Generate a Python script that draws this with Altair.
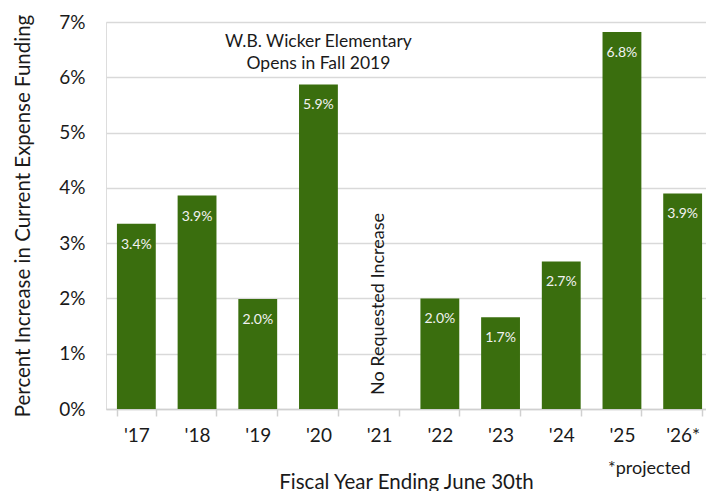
import altair as alt
import pandas as pd

years = ["'17", "'18", "'19", "'20", "'21", "'22", "'23", "'24", "'25", "'26*"]
values = [3.35, 3.86, 1.99, 5.87, None, 2.0, 1.66, 2.67, 6.82, 3.9]
labels = ["3.4%", "3.9%", "2.0%", "5.9%", "", "2.0%", "1.7%", "2.7%", "6.8%", "3.9%"]

note_year = ["'20", "'20"]
note_lines = ["W.B. Wicker Elementary", "Opens in Fall 2019"]
note_vals = [6.64, 6.24]

vert_year = ["'21"]
vert_text = ["No Requested Increase"]
vert_val = [1.9]

proj_year = ["'26*"]
proj_text = ["*projected"]
proj_val = [-1.18]

FONT = "Lato"
GREEN = "#3a6e0e"
INK = "#1a1a1a"

df = pd.DataFrame({"year": years, "value": values, "label": labels})
notes = pd.DataFrame({"year": note_year, "value": note_vals, "text": note_lines})
vert = pd.DataFrame({"year": vert_year, "value": vert_val, "text": vert_text})
proj = pd.DataFrame({"year": proj_year, "value": proj_val, "text": proj_text})

xscale = alt.Scale(paddingInner=0.36, paddingOuter=0.18, range=[0, 607])
xenc = alt.X("year:N", sort=years, scale=xscale,
             axis=alt.Axis(title="Fiscal Year Ending June 30th", labelAngle=0,
                           labelFontSize=19, labelColor=INK, labelFont=FONT,
                           labelPadding=10, tickBand="extent", tickSize=7,
                           tickColor="#d0d0d0", domainColor="#d0d0d0", domainWidth=1.5,
                           tickWidth=1.5, grid=False,
                           titleFontSize=20.5, titleFont=FONT, titleFontWeight="normal",
                           titleColor=INK, titleX=300, titleY=79,
                           titleBaseline="alphabetic"))
yscale = alt.Scale(domain=[0, 7], nice=False)
yenc = alt.Y("value:Q", scale=yscale,
             axis=alt.Axis(title="Percent Increase in Current Expense Funding",
                           values=[0, 1, 2, 3, 4, 5, 6, 7],
                           labelExpr="datum.value + '%'", labelFontSize=19,
                           labelFont=FONT, labelColor=INK, labelPadding=21,
                           ticks=False, domain=False, gridColor="#d9d9d9",
                           gridWidth=1.5, titleFontSize=20.5, titleFont=FONT,
                           titleFontWeight="normal", titleColor=INK,
                           titlePadding=25))

bars = alt.Chart(df).mark_bar(color=GREEN).encode(x=xenc, y=yenc)

bar_text = alt.Chart(df).mark_text(baseline="middle", dy=21, fontSize=14,
                                   font=FONT, color="#f2f2f2").encode(
    x=alt.X("year:N", sort=years), y=alt.Y("value:Q", scale=yscale), text="label:N")

note = alt.Chart(notes).mark_text(baseline="middle", fontSize=17.5, font=FONT,
                                  color=INK).encode(
    x=alt.X("year:N", sort=years), y=alt.Y("value:Q", scale=yscale), text="text:N")

vnote = alt.Chart(vert).mark_text(baseline="middle", angle=270, fontSize=18,
                                  font=FONT, color=INK).encode(
    x=alt.X("year:N", sort=years), y=alt.Y("value:Q", scale=yscale), text="text:N")

pnote = alt.Chart(proj).mark_text(baseline="alphabetic", align="right", dx=8,
                                  fontSize=18, font=FONT, color=INK,
                                  clip=False).encode(
    x=alt.X("year:N", sort=years), y=alt.Y("value:Q", scale=yscale), text="text:N")

chart = alt.layer(bars, bar_text, note, vnote, pnote).properties(
    width=600, height=387,
    autosize=alt.AutoSizeParams(type="none"),
    padding={"left": 98, "top": 14, "right": 0, "bottom": 82},
).configure_view(stroke=None).configure(background="white")

chart.save("out.html", embed_options={"renderer": "svg", "actions": False})
